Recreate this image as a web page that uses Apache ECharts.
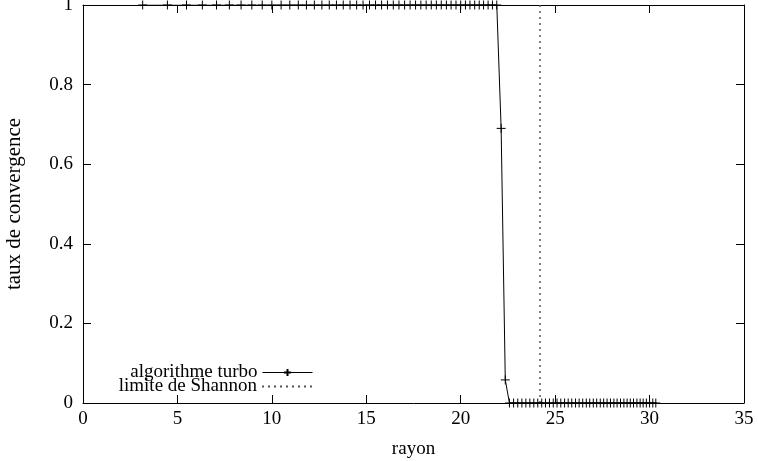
<!DOCTYPE html>
<html><head><meta charset="utf-8">
<script src="https://cdn.jsdelivr.net/npm/echarts@6/dist/echarts.min.js"></script>
<style>html,body{margin:0;padding:0;background:#fff}#c{width:758px;height:461px}</style>
</head><body><div id="c"></div>
<script>
const rayon = [3.16,4.47,5.48,6.32,7.07,7.75,8.37,8.94,9.49,10.00,10.49,10.95,11.40,11.83,12.25,12.65,13.04,13.42,13.78,14.14,
14.49,14.83,15.17,15.49,15.81,16.12,16.43,16.73,17.03,17.32,17.61,17.89,18.17,18.44,18.71,18.97,19.24,19.49,19.75,20.00,
20.25,20.49,20.74,20.98,21.21,21.45,21.68,21.91,22.14,22.36,22.58,22.80,23.02,23.24,23.45,23.66,23.87,24.08,24.29,24.49,
24.70,24.90,25.10,25.30,25.50,25.69,25.88,26.08,26.27,26.46,26.65,26.83,27.02,27.20,27.39,27.57,27.75,27.93,28.11,28.28,
28.46,28.64,28.81,28.98,29.15,29.33,29.50,29.66,29.83,30.00,30.17,30.33];
const tauxTurbo = [1,1,1,1,1,1,1,1,1,1,1,1,1,1,1,1,1,1,1,1,
1,1,1,1,1,1,1,1,1,1,1,1,1,1,1,1,1,1,1,1,
1,1,1,1,1,1,1,1,0.69,0.058,0,0,0,0,0,0,0,0,0,0,
0,0,0,0,0,0,0,0,0,0,0,0,0,0,0,0,0,0,0,0,
0,0,0,0,0,0,0,0,0,0,0,0];
const shannonX = [24.2, 24.2];
const shannonY = [0, 1];
const seriesNames = ['algorithme turbo', 'limite de Shannon'];
const axisNames = { x: 'rayon', y: 'taux de convergence' };

const FONT = 'Liberation Serif';
const chart = echarts.init(document.getElementById('c'), null, { renderer: 'canvas' });
const plus = 'path://M0,5H10M5,0V10';
const axisCommon = {
  axisLine: { show: true, onZero: false, lineStyle: { color: '#000', width: 1 } },
  axisTick: { show: true, inside: true, length: 8, lineStyle: { color: '#000', width: 1 } },
  splitLine: { show: false }
};
const legendCommon = {
  orient: 'vertical', right: 445, align: 'right',
  itemWidth: 50, itemHeight: 9, itemGap: 4, padding: 0,
  textStyle: { fontFamily: FONT, fontSize: 19, color: '#000' }
};
const option = {
  animation: false,
  backgroundColor: '#fff',
  grid: { left: 83, right: 14, top: 5, bottom: 58, outerBoundsMode: 'none', containLabel: false },
  xAxis: [
    Object.assign({ type: 'value', min: 0, max: 35, interval: 5, position: 'bottom',
      name: axisNames.x, nameLocation: 'middle', nameGap: 37,
      nameTextStyle: { fontFamily: FONT, fontSize: 19, color: '#000' },
      axisLabel: { fontFamily: FONT, fontSize: 19, color: '#000', margin: 7 } }, axisCommon),
    Object.assign({ type: 'value', min: 0, max: 35, interval: 5, position: 'top',
      axisLabel: { show: false } }, axisCommon)
  ],
  yAxis: [
    Object.assign({ type: 'value', min: 0, max: 1, interval: 0.2, position: 'left',
      name: axisNames.y, nameLocation: 'middle', nameGap: 58,
      nameTextStyle: { fontFamily: FONT, fontSize: 21, color: '#000' },
      axisLabel: { fontFamily: FONT, fontSize: 19, color: '#000', margin: 10 } }, axisCommon),
    Object.assign({ type: 'value', min: 0, max: 1, interval: 0.2, position: 'right',
      axisLabel: { show: false } }, axisCommon)
  ],
  legend: [
    Object.assign({ data: [seriesNames[0]], top: 363, lineStyle: { width: 1 } }, legendCommon),
    Object.assign({ data: [seriesNames[1]], top: 377, itemStyle: { opacity: 0 } }, legendCommon)
  ],
  series: [
    { name: seriesNames[0], type: 'line', xAxisIndex: 0, yAxisIndex: 0,
      data: rayon.map((x, i) => [x, tauxTurbo[i]]),
      symbol: plus, symbolSize: 9, showSymbol: true,
      lineStyle: { color: '#000', width: 1 },
      itemStyle: { color: 'none', borderColor: '#000', borderWidth: 1 },
      emphasis: { disabled: true }, z: 3 },
    { name: seriesNames[1], type: 'line', xAxisIndex: 0, yAxisIndex: 0,
      data: shannonX.map((x, i) => [x, shannonY[i]]),
      symbol: 'none',
      lineStyle: { color: '#555', width: 1.5, type: [2, 4] },
      itemStyle: { color: '#555' },
      emphasis: { disabled: true }, z: 2 }
  ]
};
chart.setOption(option);
</script>
</body></html>
